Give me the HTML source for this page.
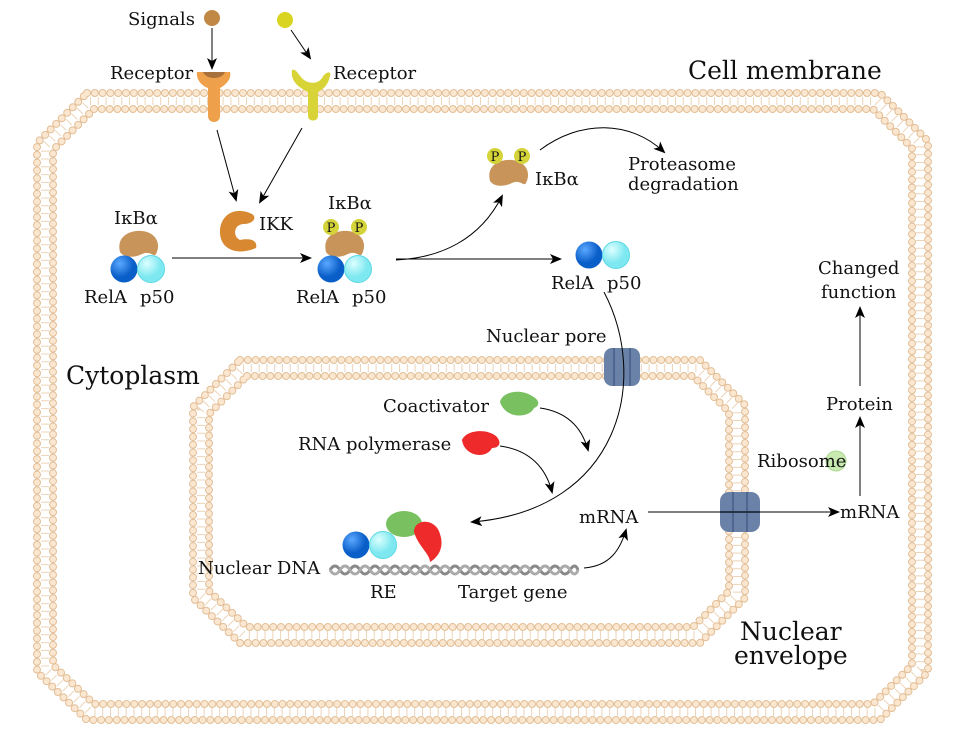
<!DOCTYPE html>
<html><head><meta charset="utf-8"><style>
body{margin:0;background:#fff}
svg{display:block}
text{font-family:"DejaVu Serif","Liberation Serif",serif;fill:#111}
</style></head><body>
<svg width="960" height="736" viewBox="0 0 960 736" xmlns="http://www.w3.org/2000/svg">
<defs>
<marker id="a" markerWidth="12" markerHeight="10" refX="10" refY="5" orient="auto" markerUnits="userSpaceOnUse">
<path d="M0,0 L12,5 L0,10 L3,5 Z" fill="#000"/></marker>
<radialGradient id="gb" cx="35%" cy="30%"><stop offset="0" stop-color="#5aa8ff"/><stop offset="1" stop-color="#0a5ec8"/></radialGradient>
<radialGradient id="gc" cx="35%" cy="30%"><stop offset="0" stop-color="#dcffff"/><stop offset="1" stop-color="#7ee8f0"/></radialGradient>
<g id="relp"><circle cx="0" cy="0" r="13.5" fill="url(#gb)"/><circle cx="27" cy="0" r="13.5" fill="url(#gc)" stroke="#5dd8e4"/></g>
<path id="ikb" d="M-18,8 C-22,-8 -8,-14 4,-13 C16,-12 24,-2 18,10 C16,14 12,6 4,10 C-4,14 -14,14 -18,8Z" fill="#c8945a"/>
<g id="pp"><circle r="8" fill="#d4d43a"/><text y="5" font-size="13" text-anchor="middle">P</text></g>
</defs>

<g fill="none" stroke-linecap="round">
<path d="M87,93 H880 L928,141 V672 L880,720 H87 L37,672 V143 Z" stroke="#e2bf98" stroke-width="8" stroke-dasharray="0 7.8"/>
<path d="M87,93 H880 L928,141 V672 L880,720 H87 L37,672 V143 Z" stroke="#fbe6d0" stroke-width="6" stroke-dasharray="0 7.8"/>
<path d="M94,109 H873 L912,148 V665 L873,704 H94 L53,665 V150 Z" stroke="#e2bf98" stroke-width="8" stroke-dasharray="0 7.8"/>
<path d="M94,109 H873 L912,148 V665 L873,704 H94 L53,665 V150 Z" stroke="#fbe6d0" stroke-width="6" stroke-dasharray="0 7.8"/>
<path d="M90,101 H877 L920,144 V669 L877,712 H90 L45,669 V146 Z" stroke="#ecd4b8" stroke-width="8" stroke-linecap="butt" stroke-dasharray="1 6.8"/>
<path d="M240,360 H700 L745,405 V598 L700,643 H240 L193,598 V407 Z" stroke="#e2bf98" stroke-width="8" stroke-dasharray="0 7.8"/>
<path d="M240,360 H700 L745,405 V598 L700,643 H240 L193,598 V407 Z" stroke="#fbe6d0" stroke-width="6" stroke-dasharray="0 7.8"/>
<path d="M247,376 H693 L729,412 V591 L693,627 H247 L209,591 V414 Z" stroke="#e2bf98" stroke-width="8" stroke-dasharray="0 7.8"/>
<path d="M247,376 H693 L729,412 V591 L693,627 H247 L209,591 V414 Z" stroke="#fbe6d0" stroke-width="6" stroke-dasharray="0 7.8"/>
<path d="M243,368 H697 L737,408 V595 L697,635 H243 L201,595 V410 Z" stroke="#ecd4b8" stroke-width="8" stroke-linecap="butt" stroke-dasharray="1 6.8"/>
</g>

<path d="M197,72 H230 C232,80 224,86 220,88 V116 C220,124 208,124 208,116 V88 C202,86 196,80 197,72Z" fill="#eea04a"/>
<path d="M203,72 H225 C222,80 206,80 203,72Z" fill="#a8703a"/>
<path d="M292,70 C296,68 299,76 304,80 C310,84 318,84 322,78 C325,72 332,70 330,76 C328,86 322,90 318,92 V116 C318,122 308,122 308,116 V92 C300,88 290,82 292,70Z" fill="#d8d438"/>
<circle cx="212" cy="18" r="8" fill="#c08844"/>
<circle cx="285" cy="20" r="8" fill="#d8d420"/>

<path d="M252,214 C236,206 220,214 220,232 C220,250 238,256 256,248 C258,240 250,238 240,240 C232,236 234,224 244,224 C252,224 258,218 252,214Z" fill="#d88830"/>

<use href="#ikb" x="138" y="244"/>
<use href="#relp" x="124" y="269"/>
<use href="#ikb" x="344" y="244"/>
<use href="#pp" x="331" y="227"/><use href="#pp" x="359" y="227"/>
<use href="#relp" x="331" y="269"/>
<use href="#ikb" x="508" y="173"/>
<use href="#pp" x="495" y="156"/><use href="#pp" x="522" y="156"/>
<use href="#relp" x="589" y="255"/>

<rect x="604" y="348" width="36" height="38" rx="8" fill="#6a82a8"/>
<path d="M614,348 V386 M630,348 V386" stroke="#4f6690" stroke-width="2"/>
<rect x="720" y="492" width="40" height="40" rx="9" fill="#6a82a8"/>
<path d="M720,512 H760 M733,492 V532 M747,492 V532" stroke="#4f6690" stroke-width="2"/>

<path d="M500,402 C502,392 520,388 532,396 C540,400 540,406 534,408 C530,418 506,420 500,402Z" fill="#78c060"/>
<path d="M462,440 C466,430 486,428 496,436 C502,442 500,448 492,448 C486,460 464,456 462,440Z" fill="#ee2a2a"/>
<circle cx="836" cy="461" r="10" fill="#c8eab0" stroke="#a8d890"/>
<ellipse cx="404" cy="524" rx="18" ry="13" fill="#78c060"/>
<path d="M414,532 C414,518 436,518 440,534 C444,546 440,556 430,562 C430,554 418,546 414,532Z" fill="#ee2a2a"/>
<use href="#relp" x="356" y="545"/>
<g stroke="#888" stroke-width="3" fill="none">
<path d="M330,570 Q335,562 340,570 T350,570 T360,570 T370,570 T380,570 T390,570 T400,570 T410,570 T420,570 T430,570 T440,570 T450,570 T460,570 T470,570 T480,570 T490,570 T500,570 T510,570 T520,570 T530,570 T540,570 T550,570 T560,570 T570,570 T578,570"/>
<path d="M330,570 Q335,578 340,570 T350,570 T360,570 T370,570 T380,570 T390,570 T400,570 T410,570 T420,570 T430,570 T440,570 T450,570 T460,570 T470,570 T480,570 T490,570 T500,570 T510,570 T520,570 T530,570 T540,570 T550,570 T560,570 T570,570 T578,570" stroke="#aaa"/>
</g>

<g stroke="#000" stroke-width="1" fill="none" marker-end="url(#a)">
<path d="M212,28 V68"/>
<path d="M291,30 L310,58"/>
<path d="M217,130 L236,200"/>
<path d="M302,128 L260,202"/>
<path d="M172,258 H310"/>
<path d="M396,260 C440,258 480,240 502,196"/>
<path d="M540,150 C580,120 630,120 664,152"/>
<path d="M396,259 H560"/>
<path d="M604,292 C650,380 620,510 472,522"/>
<path d="M540,408 C568,412 582,428 588,450"/>
<path d="M500,446 C530,450 546,468 552,492"/>
<path d="M584,568 C610,566 620,550 626,530"/>
<path d="M648,512 H838"/>
<path d="M860,496 V418"/>
<path d="M860,386 V308"/>
</g>

<g font-size="18">
<text x="128" y="25">Signals</text>
<text x="110" y="79">Receptor</text>
<text x="333" y="79">Receptor</text>
<text x="688" y="79" font-size="25">Cell membrane</text>
<text x="114" y="224">IκBα</text>
<text x="84" y="303">RelA</text><text x="140" y="303">p50</text>
<text x="259" y="230">IKK</text>
<text x="328" y="209">IκBα</text>
<text x="296" y="303">RelA</text><text x="352" y="303">p50</text>
<text x="535" y="185">IκBα</text>
<text x="628" y="170">Proteasome</text>
<text x="628" y="190">degradation</text>
<text x="551" y="289">RelA</text><text x="607" y="289">p50</text>
<text x="818" y="274">Changed</text>
<text x="821" y="298">function</text>
<text x="486" y="342">Nuclear pore</text>
<text x="66" y="384" font-size="25">Cytoplasm</text>
<text x="383" y="412">Coactivator</text>
<text x="298" y="450">RNA polymerase</text>
<text x="826" y="410">Protein</text>
<text x="757" y="467">Ribosome</text>
<text x="579" y="523">mRNA</text>
<text x="840" y="518">mRNA</text>
<text x="198" y="574">Nuclear DNA</text>
<text x="370" y="598">RE</text>
<text x="458" y="598">Target gene</text>
<text x="740" y="640" font-size="25">Nuclear</text>
<text x="734" y="664" font-size="25">envelope</text>
</g>
</svg>
</body></html>
